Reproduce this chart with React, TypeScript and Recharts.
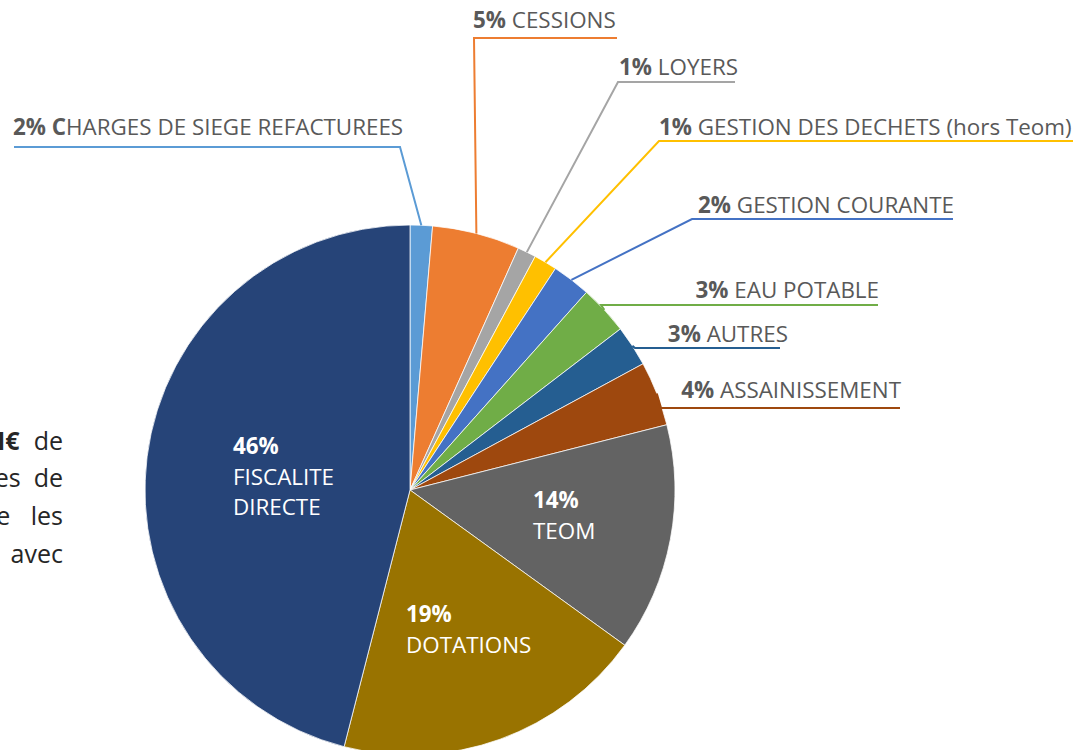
import { PieChart, Pie, Cell } from "recharts";

// Recettes par nature (parts en %)
const categories = [
  "CHARGES DE SIEGE REFACTUREES",
  "CESSIONS",
  "LOYERS",
  "GESTION DES DECHETS (hors Teom)",
  "GESTION COURANTE",
  "EAU POTABLE",
  "AUTRES",
  "ASSAINISSEMENT",
  "TEOM",
  "DOTATIONS",
  "FISCALITE DIRECTE",
];
const shares = [1.36, 5.34, 1.13, 1.42, 2.35, 3.0, 2.5, 3.94, 13.92, 19.04, 46.0];
const pctLabels = ["2%", "5%", "1%", "1%", "2%", "3%", "3%", "4%", "14%", "19%", "46%"];
const colors = [
  "#5B9BD5",
  "#ED7D31",
  "#A5A5A5",
  "#FFC000",
  "#4472C4",
  "#70AD47",
  "#255E91",
  "#9E480E",
  "#636363",
  "#997300",
  "#264478",
];

const FONT = "'Open Sans', 'DejaVu Sans', sans-serif";
const FS = 22.4;
const RAD = Math.PI / 180;

// placement des étiquettes extérieures (coude du trait, fin du soulignement, texte)
const outerLayout: Record<number, any> = {
  0: { ex: 400, ey: 147, lx: 14, tx: 13, ty: 135, anchor: "start", boldLead: 1 },
  1: { ex: 474, ey: 38, lx: 617, tx: 473, ty: 28, anchor: "start" },
  2: { ex: 618, ey: 82, lx: 735, tx: 619, ty: 75, anchor: "start" },
  3: { ex: 659, ey: 141, lx: 1073, tx: 659, ty: 135, anchor: "start" },
  4: { ex: 692, ey: 219, lx: 953, tx: 954, ty: 213, anchor: "end" },
  5: { ex: 601, ey: 305, lx: 878, tx: 879, ty: 298, anchor: "end" },
  6: { ex: 635, ey: 348, lx: 780, tx: 788, ty: 342, anchor: "end" },
  7: { ex: 661, ey: 408, lx: 900, tx: 901, ty: 398, anchor: "end" },
};

// étiquettes intérieures, décalage par rapport au centre
const innerLayout: Record<number, { dx: number; dy: number }> = {
  8: { dx: 123, dy: 18 },
  9: { dx: -4, dy: 132 },
  10: { dx: -177, dy: -36 },
};

const data = categories.map((name, i) => ({ name, value: shares[i] }));

const renderLabel = (props: any) => {
  const { cx, cy, midAngle, outerRadius, index } = props;
  const inner = innerLayout[index];
  if (inner) {
    const x = cx + inner.dx;
    const words = categories[index].split(" ");
    return (
      <text x={x} y={cy + inner.dy} fill="#ffffff" fontSize={FS} fontFamily={FONT}>
        <tspan x={x} fontWeight={700}>
          {pctLabels[index]}
        </tspan>
        {words.map((w, i) => (
          <tspan key={i} x={x} dy={30.5}>
            {w}
          </tspan>
        ))}
      </text>
    );
  }
  const o = outerLayout[index];
  if (!o) return null;
  const sx = cx + outerRadius * Math.cos(-midAngle * RAD);
  const sy = cy + outerRadius * Math.sin(-midAngle * RAD);
  const name = categories[index];
  const lead = o.boldLead || 0;
  return (
    <g>
      <polyline
        points={`${sx},${sy} ${o.ex},${o.ey} ${o.lx},${o.ey}`}
        fill="none"
        stroke={colors[index]}
        strokeWidth={2}
      />
      <text
        x={o.tx}
        y={o.ty}
        textAnchor={o.anchor}
        fill="#595959"
        fontSize={FS}
        fontFamily={FONT}
      >
        <tspan fontWeight={700}>
          {pctLabels[index]} {name.slice(0, lead)}
        </tspan>
        <tspan>{name.slice(lead)}</tspan>
      </text>
    </g>
  );
};

// bout de paragraphe coupé à gauche de la capture
const sideText = [
  { bold: "M€", rest: " de", y: 440, ws: 7.5 },
  { bold: "", rest: "es de", y: 477, ws: 6.5 },
  { bold: "", rest: "e les", y: 515, ws: 14 },
  { bold: "", rest: "avec", y: 553, ws: 0 },
];

export default function App() {
  return (
    <div
      style={{
        position: "fixed",
        left: 0,
        top: 0,
        width: 1073,
        height: 750,
        background: "#ffffff",
        overflow: "hidden",
      }}
    >
      {sideText.map((line, i) => (
        <div
          key={i}
          style={{
            position: "absolute",
            right: 1073 - 63,
            top: line.y - 16,
            lineHeight: "32px",
            fontSize: 25,
            fontFamily: FONT,
            color: "#262626",
            whiteSpace: "pre",
            wordSpacing: line.ws,
          }}
        >
          {line.bold && <b>{line.bold}</b>}
          {line.rest}
        </div>
      ))}
      <PieChart
        width={1073}
        height={750}
        margin={{ top: 0, right: 0, bottom: 0, left: 0 }}
        style={{ position: "absolute", left: 0, top: 0 }}
      >
        <Pie
          data={data}
          dataKey="value"
          nameKey="name"
          cx={410}
          cy={490}
          outerRadius={265}
          startAngle={90}
          endAngle={-270}
          stroke="#ffffff"
          strokeWidth={0.75}
          label={renderLabel}
          labelLine={false}
          isAnimationActive={false}
        >
          {data.map((d, i) => (
            <Cell key={d.name} fill={colors[i]} />
          ))}
        </Pie>
      </PieChart>
    </div>
  );
}
